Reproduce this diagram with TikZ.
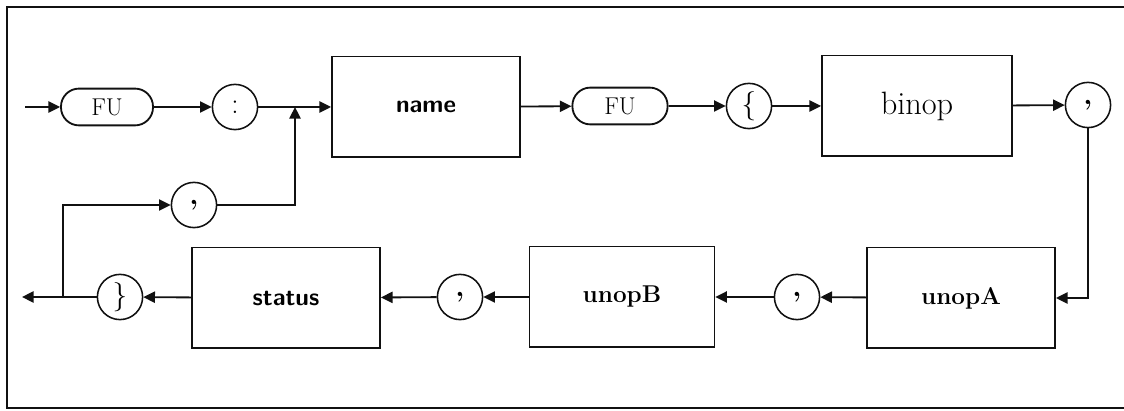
\documentclass[tikz,border=0pt]{standalone}
\usepackage{fontspec}
\usepackage{tikz}
\usetikzlibrary{arrows.meta,positioning}
\definecolor{Tinta}{HTML}{111111}

\begin{document}
\begin{tikzpicture}[
  x=0.025cm,y=-0.025cm,
  >={Triangle[length=2.9mm,width=2.8mm]},
  caja/.style={draw=Tinta,line width=1.3pt,minimum width=4.7cm,minimum height=2.52cm,align=center},
  term/.style={draw=Tinta,line width=1.3pt,rounded corners=0.45cm,minimum width=2.3cm,minimum height=0.92cm,font=\LARGE},
  simb/.style={circle,draw=Tinta,line width=1.1pt,minimum size=1.13cm,inner sep=0pt,font=\huge},
  coma/.style={simb,font=\huge\bfseries},
  arr/.style={->,line width=1.3pt,Tinta}
]
  \useasboundingbox (0,0) rectangle (1124,411);
  \draw[line width=1.4pt,Tinta] (1140,7) -- (7,7) -- (7,408) -- (1140,408);

  % fila superior
  \coordinate (entrada) at (25,107);
  \node[term] (fuA) at (107,107) {FU};
  \node[simb] (dospuntos) at (235,107) {:};
  \coordinate (jarriba) at (295,107);
  \node[caja,font=\LARGE\bfseries\sffamily] (name) at (426,107) {name};
  \node[term,minimum width=2.38cm] (fuB) at (620,106) {FU};
  \node[simb] (llaveA) at (749,106) {\{};
  \node[caja,minimum width=4.75cm,font=\fontsize{23}{27}\selectfont] (binop) at (917,106) {binop};
  \node[coma] (comaA) at (1088,105) {,};

  % fila inferior
  \node[caja,font=\LARGE\bfseries] (unopA) at (961,298) {unopA};
  \node[coma] (comaB) at (797,297) {,};
  \node[caja,minimum width=4.62cm,font=\LARGE\bfseries] (unopB) at (622,297) {unopB};
  \node[coma] (comaC) at (460,297) {,};
  \node[caja,font=\LARGE\bfseries\sffamily] (status) at (286,298) {status};
  \node[simb] (llaveB) at (120,297) {\}};
  \coordinate (jabajo) at (63,297);
  \coordinate (salida) at (22,297);

  % bucle de la coma
  \node[coma] (comaD) at (194,205) {,};

  \draw[arr] (entrada) -- (fuA);
  \draw[arr] (fuA) -- (dospuntos);
  \draw[arr] (dospuntos) -- (name);
  \draw[arr] (name) -- (fuB);
  \draw[arr] (fuB) -- (llaveA);
  \draw[arr] (llaveA) -- (binop);
  \draw[arr] (binop) -- (comaA);
  \draw[arr] (comaA.south) |- (unopA.east);
  \draw[arr] (unopA) -- (comaB);
  \draw[arr] (comaB) -- (unopB);
  \draw[arr] (unopB) -- (comaC);
  \draw[arr] (comaC) -- (status);
  \draw[arr] (status) -- (llaveB);
  \draw[arr] (llaveB) -- (salida);
  \draw[arr] (jabajo) |- (comaD);
  \draw[arr] (comaD) -| (jarriba);
\end{tikzpicture}
\end{document}
